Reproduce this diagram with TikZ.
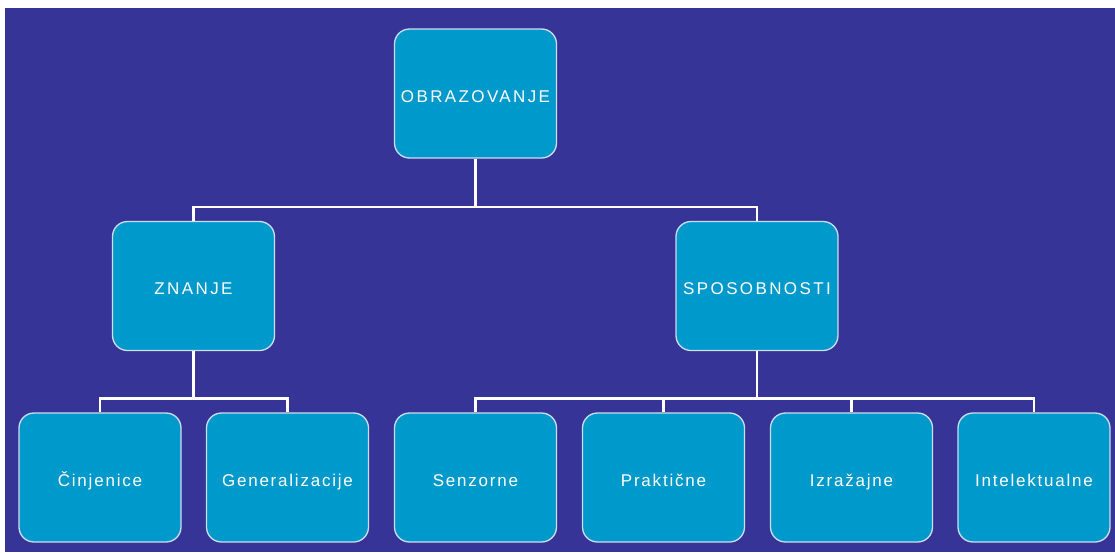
\documentclass[tikz,border=0pt]{standalone}
\usepackage{fontspec}
\setmainfont{Liberation Sans}
\newfontfamily\capsfont[LetterSpace=14]{Liberation Sans}
\newfontfamily\lowfont[LetterSpace=10.5]{Liberation Sans}
\definecolor{bg}{RGB}{54,52,150}
\definecolor{boxfill}{RGB}{0,153,204}
\definecolor{boxline}{RGB}{205,222,240}
\begin{document}
\begin{tikzpicture}[x=1pt,y=-1pt,
  box/.style={draw=boxline, line width=1.3pt, fill=boxfill, rounded corners=15pt,
    minimum width=162pt, minimum height=129pt, inner sep=0pt, text=white,
    text height=17pt, text depth=0pt, font=\lowfont\fontsize{17}{20}\selectfont},
  capbox/.style={box, font=\capsfont\fontsize{17}{20}\selectfont},
  conn/.style={draw=white, line width=2.6pt}]
\fill[white] (0,0) rectangle (1115,552);
\fill[bg] (5,8) rectangle (1115,552);
\useasboundingbox (0,0) rectangle (1115,552);
\node[capbox] (obr) at (475.5,93.5) {OBRAZOVANJE};
\node[capbox] (zna) at (193.5,286) {ZNANJE};
\node[capbox] (spo) at (757,286) {SPOSOBNOSTI};
\node[box] (cin) at (100,477.5) {Činjenice};
\node[box] (gen) at (287.5,477.5) {Generalizacije};
\node[box] (sen) at (475.5,477.5) {Senzorne};
\node[box] (pra) at (663.5,477.5) {Praktične};
\node[box] (izr) at (851.5,477.5) {Izražajne};
\node[box, minimum width=152pt] (int) at (1034,477.5) {Intelektualne};
\draw[conn] (obr.south) -- ++(0,48.5) -| (zna.north);
\draw[conn] (obr.south) -- ++(0,48.5) -| (spo.north);
\draw[conn] (zna.south) -- ++(0,47.5) -| (cin.north);
\draw[conn] (zna.south) -- ++(0,47.5) -| (gen.north);
\draw[conn] (spo.south) -- ++(0,47.5) -| (sen.north);
\draw[conn] (spo.south) -- ++(0,47.5) -| (pra.north);
\draw[conn] (spo.south) -- ++(0,47.5) -| (izr.north);
\draw[conn] (spo.south) -- ++(0,47.5) -| (int.north);
\end{tikzpicture}
\end{document}
